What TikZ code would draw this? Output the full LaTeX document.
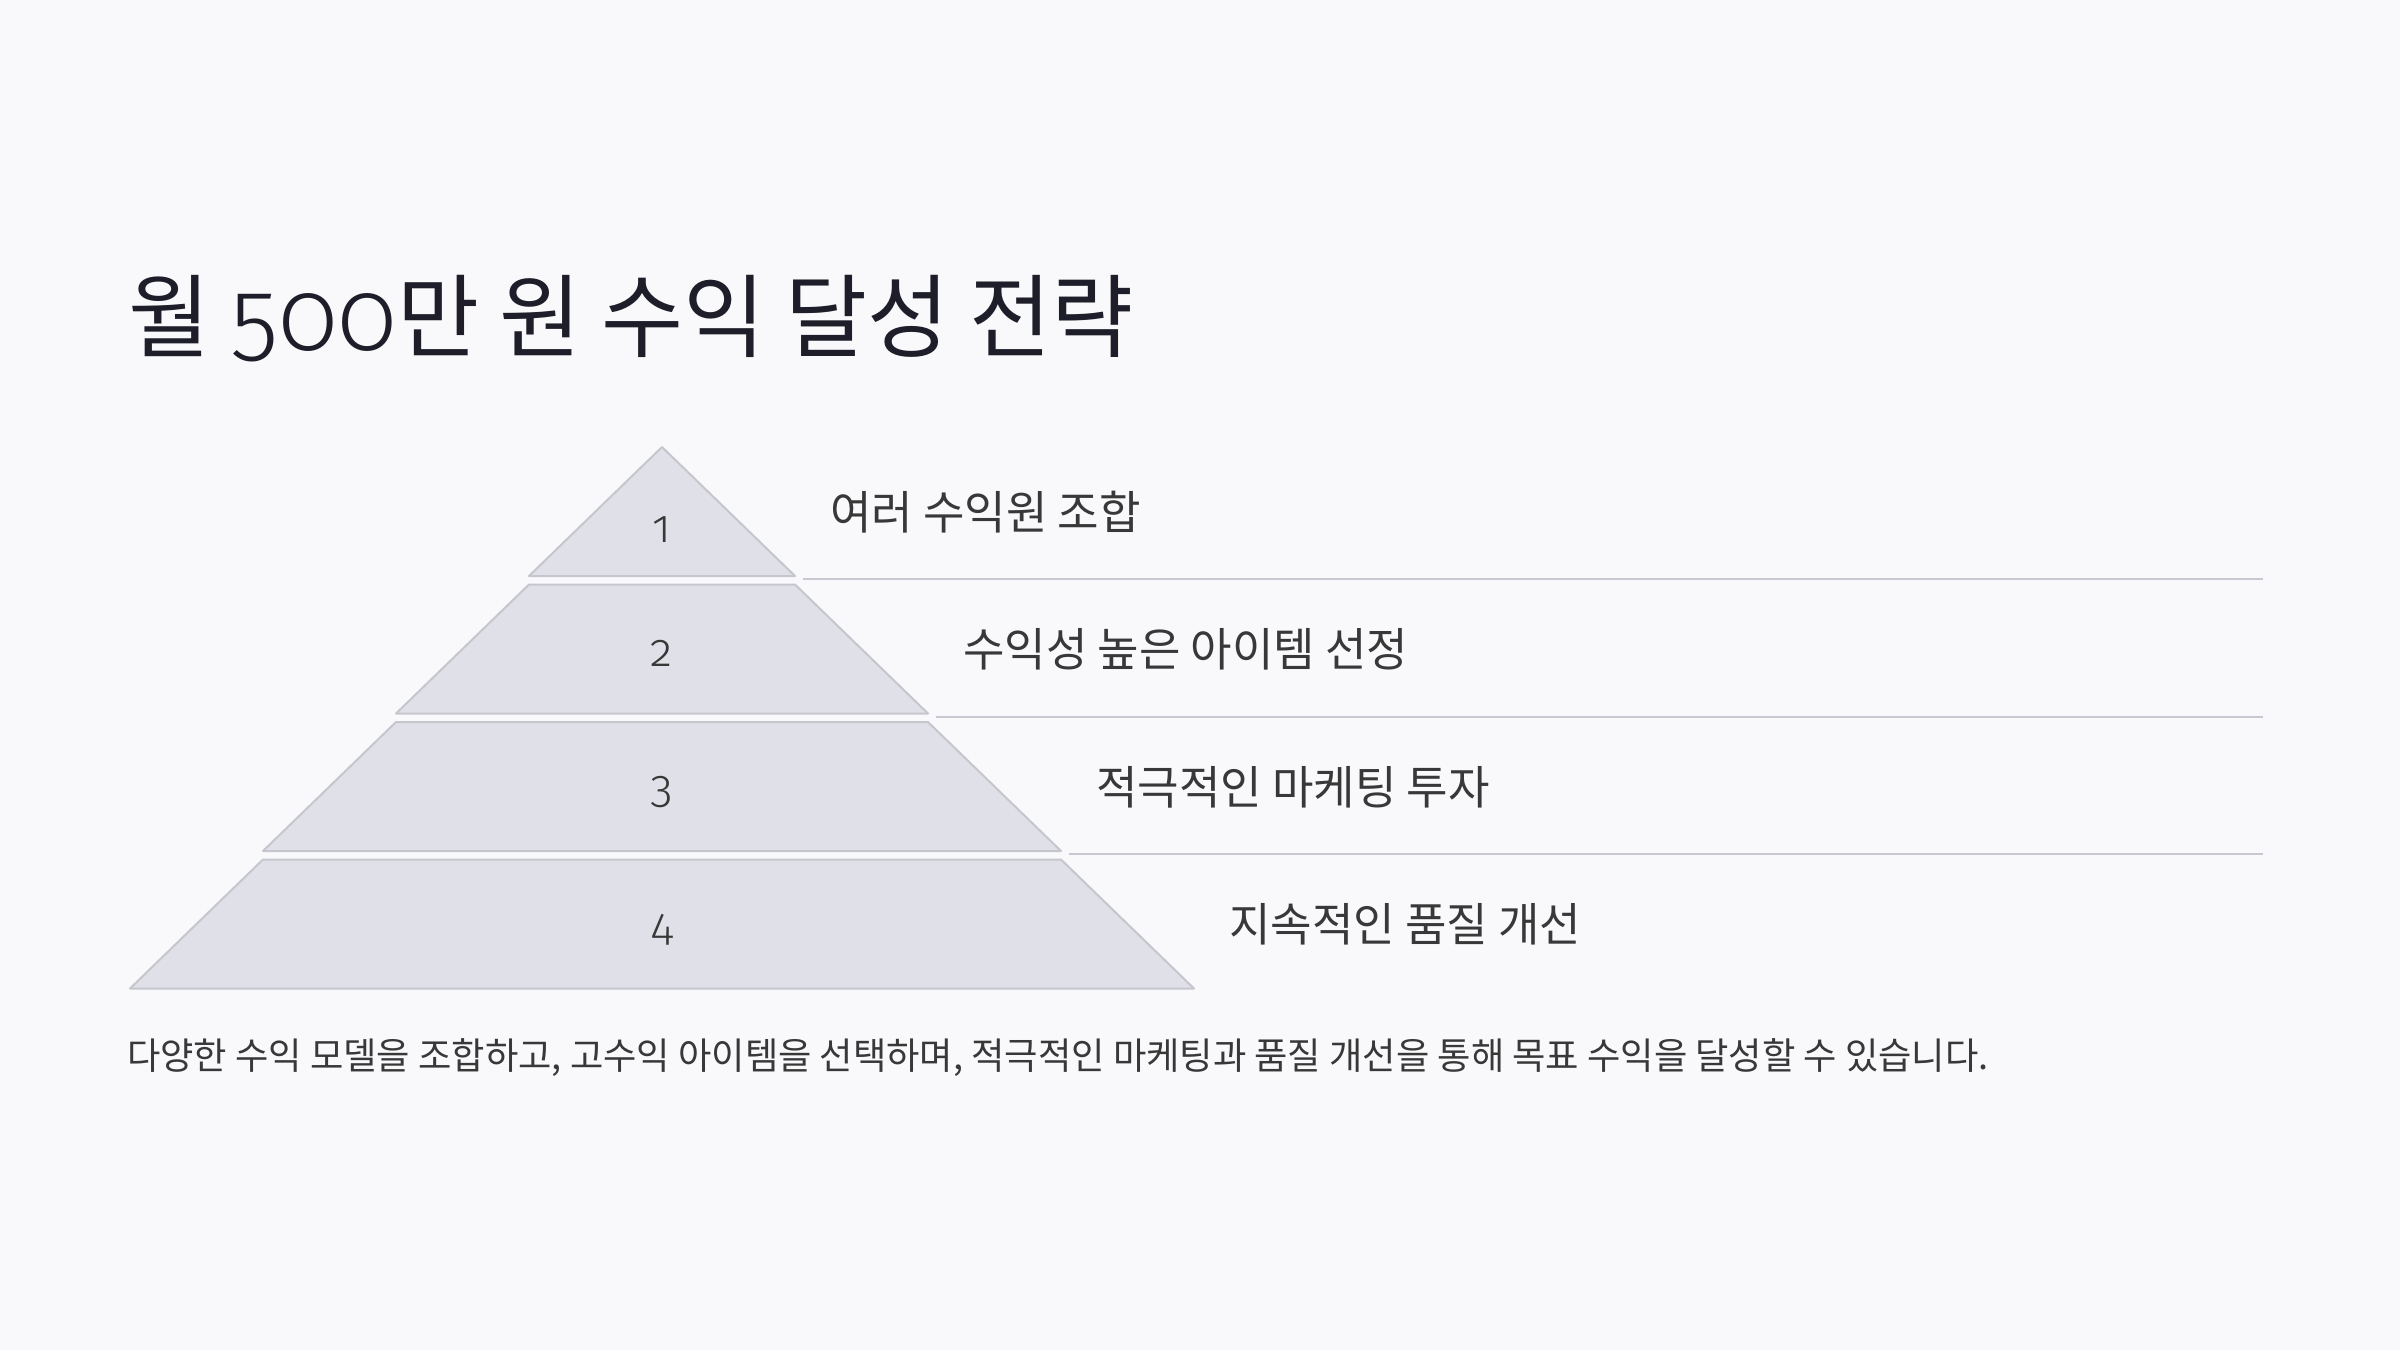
\documentclass[tikz,border=0pt]{standalone}
\usepackage{fontspec}
\newfontfamily\krfont[FakeStretch=0.98]{Noto Sans CJK KR}
\newfontfamily\numfont[Numbers=OldStyle]{Fira Sans Light}
\definecolor{bgc}{HTML}{F9F9FB}
\definecolor{levelfill}{HTML}{E0E0E8}
\definecolor{levelline}{HTML}{C6C6CE}
\definecolor{sepline}{HTML}{C8C8D0}
\definecolor{titlec}{HTML}{1E1E2A}
\definecolor{textc}{HTML}{383838}
\begin{document}
\begin{tikzpicture}[x=1pt,y=-1pt,
  levelshape/.style={fill=levelfill,draw=levelline,line width=2pt,line join=round},
  sepstyle/.style={draw=sepline,line width=2pt},
  numlabel/.style={anchor=base,inner sep=0pt,text=textc,font=\numfont\fontsize{46}{48}\selectfont},
  steplabel/.style={anchor=west,inner sep=0pt,text=textc,font=\krfont\fontsize{46}{52}\selectfont},
]
\fill[bgc] (0,0) rectangle (2400,1350);
\useasboundingbox (0,0) rectangle (2400,1350);

% title
\node[anchor=base west,inner sep=0pt,text=titlec,font=\krfont\fontsize{91}{100}\selectfont] (title) at (128,350)
  {월 {\numfont\fontsize{100}{100}\selectfont 500}만 원 수익 달성 전략};

% pyramid levels
\foreach \k/\nb/\txt in {1/542/여러 수익원 조합, 2/666/수익성 높은 아이템 선정, 3/802/적극적인 마케팅 투자, 4/940/지속적인 품질 개선} {
  \pgfmathsetmacro\lvyt{447+137.5*(\k-1)}
  \pgfmathsetmacro\lvyb{\lvyt+129}
  \pgfmathsetmacro\lvym{\lvyt+65}
  \pgfmathsetmacro\lvht{133*(\k-1)}
  \pgfmathsetmacro\lvhb{133*\k}
  \draw[levelshape] (662-\lvht,\lvyt) -- (662+\lvht,\lvyt) -- (662+\lvhb,\lvyb) -- (662-\lvhb,\lvyb) -- cycle;
  \node[numlabel] (n\k) at (662,\nb) {\k};
  \node[steplabel] (t\k) at (662+\lvhb+35,\lvym) {\txt};
}

% separator lines
\foreach \k in {1,2,3} {
  \pgfmathsetmacro\lvsy{447+137.5*(\k-1)+129+3}
  \pgfmathsetmacro\lvsx{662+133*\k+8}
  \coordinate (ls\k) at (\lvsx,\lvsy);
  \coordinate (le\k) at (2263,\lvsy);
  \draw[sepstyle] (ls\k) -- (le\k);
}

% footer
\node[anchor=base west,inner sep=0pt,text=textc,font=\krfont\fontsize{37}{42}\selectfont] (footer) at (127,1069)
  {다양한 수익 모델을 조합하고, 고수익 아이템을 선택하며, 적극적인 마케팅과 품질 개선을 통해 목표 수익을 달성할 수 있습니다.};
\end{tikzpicture}
\end{document}
